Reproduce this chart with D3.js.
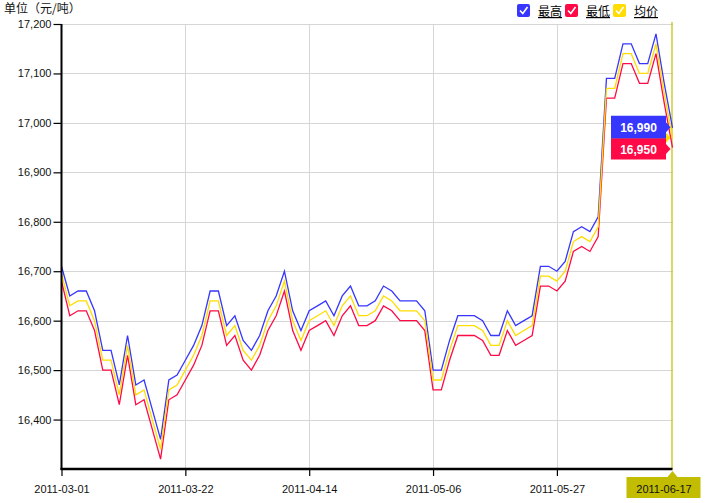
<!DOCTYPE html>
<html>
<head>
<meta charset="utf-8">
<script src="https://cdn.jsdelivr.net/npm/d3@7"></script>
<style>
  html, body { margin: 0; padding: 0; background: #fff; }
  svg { display: block; font-family: "Liberation Sans", Arial, sans-serif; }
</style>
</head>
<body>
<svg id="chart" width="707" height="503"></svg>
<script>
const dates = [
  "2011-03-01","2011-03-02","2011-03-03","2011-03-04","2011-03-07","2011-03-08","2011-03-09","2011-03-10","2011-03-11",
  "2011-03-14","2011-03-15","2011-03-16","2011-03-17","2011-03-18","2011-03-21","2011-03-22","2011-03-23","2011-03-24",
  "2011-03-25","2011-03-28","2011-03-29","2011-03-30","2011-03-31","2011-04-01","2011-04-06","2011-04-07","2011-04-08",
  "2011-04-11","2011-04-12","2011-04-13","2011-04-14","2011-04-15","2011-04-18","2011-04-19","2011-04-20","2011-04-21",
  "2011-04-22","2011-04-25","2011-04-26","2011-04-27","2011-04-28","2011-04-29","2011-05-03","2011-05-04","2011-05-05",
  "2011-05-06","2011-05-09","2011-05-10","2011-05-11","2011-05-12","2011-05-13","2011-05-16","2011-05-17","2011-05-18",
  "2011-05-19","2011-05-20","2011-05-23","2011-05-24","2011-05-25","2011-05-26","2011-05-27","2011-05-30","2011-05-31",
  "2011-06-01","2011-06-02","2011-06-03","2011-06-07","2011-06-08","2011-06-09","2011-06-10","2011-06-13","2011-06-14",
  "2011-06-15","2011-06-16","2011-06-17"
];
const highValues = [
  16710,16650,16660,16660,16620,16540,16540,16470,16570,
  16470,16480,16420,16360,16480,16490,16520,16550,16590,
  16660,16660,16590,16610,16560,16540,16570,16620,16650,
  16700,16620,16580,16620,16630,16640,16610,16650,16670,
  16630,16630,16640,16670,16660,16640,16640,16640,16620,
  16500,16500,16560,16610,16610,16610,16600,16570,16570,
  16620,16590,16600,16610,16710,16710,16700,16720,16780,
  16790,16780,16810,17090,17090,17160,17160,17120,17120,
  17180,17080,16990
];
const lowValues = [
  16680,16610,16620,16620,16580,16500,16500,16430,16530,
  16430,16440,16380,16320,16440,16450,16480,16510,16550,
  16620,16620,16550,16570,16520,16500,16530,16580,16610,
  16660,16580,16540,16580,16590,16600,16570,16610,16630,
  16590,16590,16600,16630,16620,16600,16600,16600,16580,
  16460,16460,16520,16570,16570,16570,16560,16530,16530,
  16580,16550,16560,16570,16670,16670,16660,16680,16740,
  16750,16740,16770,17050,17050,17120,17120,17080,17080,
  17140,17040,16950
];
const avgValues = [
  16695,16630,16640,16640,16600,16520,16520,16450,16550,
  16450,16460,16400,16340,16460,16470,16500,16530,16570,
  16640,16640,16570,16590,16540,16520,16550,16600,16630,
  16680,16600,16560,16600,16610,16620,16590,16630,16650,
  16610,16610,16620,16650,16640,16620,16620,16620,16600,
  16480,16480,16540,16590,16590,16590,16580,16550,16550,
  16600,16570,16580,16590,16690,16690,16680,16700,16760,
  16770,16760,16790,17070,17070,17140,17140,17100,17100,
  17160,17060,16970
];
const seriesNames = ["最高", "最低", "均价"];
const seriesColors = ["#3636ff", "#ff0a46", "#ffdd00"];
const yTicks = [16400,16500,16600,16700,16800,16900,17000,17100,17200];
const xTickLabels = ["2011-03-01","2011-03-22","2011-04-14","2011-05-06","2011-05-27","2011-06-17"];
const unitLabel = "单位（元/吨）";

(function () {
const svg = d3.select("#chart");
const pLeft = 61.5, pRight = 672.5, pTop = 24, pBottom = 469;
const x = d3.scalePoint().domain(dates).range([pLeft, pRight]);
const y = d3.scaleLinear().domain([16300, 17200]).range([pBottom, pTop]);
const series = [highValues, lowValues, avgValues];

// horizontal grid
svg.append("g").attr("transform", `translate(${pLeft},0)`)
  .call(d3.axisLeft(y).tickValues(yTicks).tickSize(-(pRight - pLeft)).tickFormat(""))
  .call(g => g.select(".domain").remove())
  .call(g => g.selectAll("line").attr("stroke", "#d6d6d6").attr("shape-rendering", "crispEdges"));
// vertical grid
svg.append("g").attr("transform", `translate(0,${pBottom})`)
  .call(d3.axisBottom(x).tickValues(xTickLabels.slice(1, -1)).tickSize(-(pBottom - pTop)).tickFormat(""))
  .call(g => g.select(".domain").remove())
  .call(g => g.selectAll("line").attr("stroke", "#d6d6d6").attr("shape-rendering", "crispEdges"));

// crosshair at last point
const lastDate = dates[dates.length - 1];
const lx = x(lastDate);
svg.append("line")
  .attr("x1", lx - 0.5).attr("x2", lx - 0.5)
  .attr("y1", pTop - 2).attr("y2", pBottom)
  .attr("stroke", "#c4c000").attr("stroke-width", 1.2);

// lines
const line = d3.line().x((d, i) => x(dates[i])).y(d => y(d));
series.forEach((vals, k) => {
  svg.append("path").datum(vals)
    .attr("fill", "none").attr("stroke", seriesColors[k]).attr("stroke-width", 1.3)
    .attr("stroke-linejoin", "miter").attr("d", line);
});

// y axis
const yAxis = svg.append("g").attr("transform", `translate(${pLeft},0)`)
  .call(d3.axisLeft(y).tickValues(yTicks).tickSize(8).tickPadding(2).tickFormat(d3.format(",")));
yAxis.select(".domain").attr("d", `M0,${pTop}V${pBottom + 1}`).attr("stroke", "#000").attr("stroke-width", 2);
yAxis.selectAll(".tick line").attr("stroke", "#000").attr("stroke-width", 1.2);
yAxis.selectAll("text").attr("font-size", 11).attr("fill", "#111").attr("font-family", "Liberation Sans, Arial, sans-serif");

// x label highlight box for last date
svg.append("path")
  .attr("d", `M${lx - 46},${477} H${lx - 5} L${lx},${471} L${lx + 5},${477} H${lx + 28} V${498} H${lx - 46} Z`)
  .attr("fill", "#c2bd00");

// x axis
const xAxis = svg.append("g").attr("transform", `translate(0,${pBottom})`)
  .call(d3.axisBottom(x).tickValues(xTickLabels).tickSize(7).tickPadding(9));
xAxis.select(".domain").attr("d", `M${pLeft - 1},0H${pRight}`).attr("stroke", "#000").attr("stroke-width", 2.5);
xAxis.selectAll(".tick line").attr("stroke", "#000").attr("stroke-width", 1.2);
xAxis.selectAll(".tick").filter(d => d === lastDate).select("line").remove();
xAxis.selectAll("text").attr("font-size", 11).attr("fill", "#111").attr("font-family", "Liberation Sans, Arial, sans-serif");
xAxis.selectAll(".tick").filter(d => d === lastDate).select("text").attr("dx", -9);

// unit label
svg.append("text").attr("x", 4).attr("y", 13).attr("font-size", 12)
  .attr("font-family", "Noto Sans CJK SC, sans-serif").attr("fill", "#111").text(unitLabel);

// legend
const legendX = [517, 565, 613];
seriesNames.forEach((name, k) => {
  const g = svg.append("g").attr("transform", `translate(${legendX[k]},4)`);
  g.append("rect").attr("width", 13).attr("height", 13).attr("rx", 2).attr("fill", seriesColors[k]);
  g.append("path").attr("d", "M3,6.5 L5.8,9.5 L10.5,3")
    .attr("fill", "none").attr("stroke", "#fff").attr("stroke-width", 1.6);
  g.append("text").attr("x", 21).attr("y", 12).attr("font-size", 12)
    .attr("font-family", "Noto Sans CJK SC, sans-serif").attr("fill", "#000")
    .attr("text-decoration", "underline").text(name);
});

// tooltips at last point (avg first, behind)
const lastIdx = dates.length - 1;
const tipOrder = [2, 0, 1];
const tipCenters = { 0: y(highValues[lastIdx]) - 0.5, 1: y(lowValues[lastIdx]) + 1.5, 2: y(avgValues[lastIdx]) };
const tipX0 = 611, tipX1 = 666, tipTipX = lx - 2;
tipOrder.forEach(k => {
  const cy = tipCenters[k];
  const h = k === 1 ? 21 : 23;
  const y0 = cy - h / 2, y1 = cy + h / 2;
  svg.append("path")
    .attr("d", `M${tipX0},${y0} H${tipX1} V${cy - 5} L${tipTipX},${cy} L${tipX1},${cy + 5} V${y1} H${tipX0} Z`)
    .attr("fill", seriesColors[k]);
  if (k !== 2) {
    svg.append("text").attr("x", (tipX0 + tipX1) / 2).attr("y", cy + 4.5)
      .attr("text-anchor", "middle").attr("font-size", 12).attr("font-weight", "bold")
      .attr("fill", "#fff").text(d3.format(",")(series[k][lastIdx]));
  }
});
})();
</script>
</body>
</html>
